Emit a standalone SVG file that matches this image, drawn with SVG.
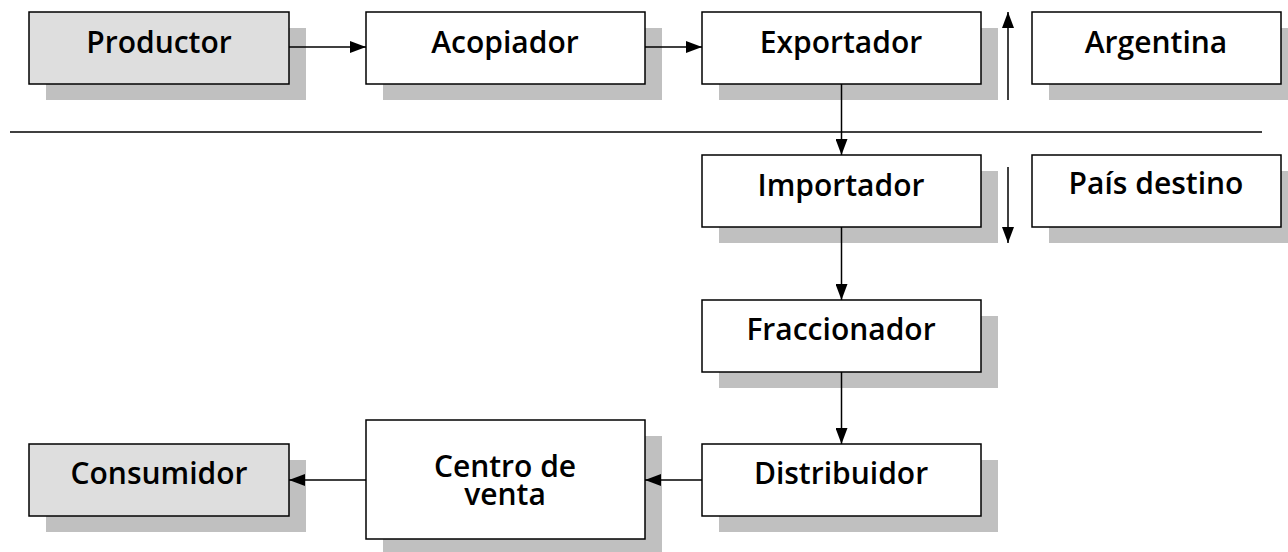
<svg xmlns="http://www.w3.org/2000/svg" width="1288" height="552" viewBox="0 0 1288 552">
<defs>
<marker id="ah" viewBox="0 0 16 12" refX="16" refY="6" markerWidth="16" markerHeight="12" markerUnits="userSpaceOnUse" orient="auto">
<path d="M0,0 L16,6 L0,12 Z" fill="#000"/>
</marker>
</defs>
<style>
.sh{fill:#c0c0c0}
.bx{fill:#fff;stroke:#000;stroke-width:1.5}
.gr{fill:#dedede}
.t{font-family:"Open Sans","DejaVu Sans",sans-serif;font-size:30px;font-weight:600;fill:#000;text-anchor:middle}
.ln{stroke:#000;stroke-width:1.5;fill:none}
.ar{stroke:#000;stroke-width:1.5;fill:none;marker-end:url(#ah)}
</style>
<rect width="1288" height="552" fill="#fff"/>
<g id="productor"><rect class="sh" x="46" y="28" width="260" height="72"/><rect class="bx gr" x="29" y="12" width="260" height="72"/><text class="t" x="159" y="53">Productor</text></g>
<g id="acopiador"><rect class="sh" x="383" y="28" width="279" height="72"/><rect class="bx" x="366" y="12" width="279" height="72"/><text class="t" x="505" y="53">Acopiador</text></g>
<g id="exportador"><rect class="sh" x="719" y="28" width="279" height="72"/><rect class="bx" x="702" y="12" width="279" height="72"/><text class="t" x="841" y="53">Exportador</text></g>
<g id="argentina"><rect class="sh" x="1049" y="28" width="250" height="72"/><rect class="bx" x="1032" y="12" width="249" height="72"/><text class="t" x="1156" y="53">Argentina</text></g>
<g id="importador"><rect class="sh" x="719" y="171" width="279" height="72"/><rect class="bx" x="702" y="155" width="279" height="72"/><text class="t" x="841" y="196">Importador</text></g>
<g id="pais"><rect class="sh" x="1049" y="171" width="250" height="72"/><rect class="bx" x="1032" y="155" width="249" height="72"/><text class="t" x="1156" y="194">País destino</text></g>
<g id="fraccionador"><rect class="sh" x="719" y="316" width="279" height="72"/><rect class="bx" x="702" y="300" width="279" height="72"/><text class="t" x="841" y="340">Fraccionador</text></g>
<g id="distribuidor"><rect class="sh" x="719" y="460" width="279" height="72"/><rect class="bx" x="702" y="444" width="279" height="72"/><text class="t" x="841" y="484">Distribuidor</text></g>
<g id="centro"><rect class="sh" x="383" y="436" width="279" height="116"/><rect class="bx" x="366" y="420" width="279" height="119"/><text class="t" x="505" y="477">Centro de</text><text class="t" x="505" y="505">venta</text></g>
<g id="consumidor"><rect class="sh" x="46" y="460" width="260" height="72"/><rect class="bx gr" x="29" y="444" width="260" height="72"/><text class="t" x="159" y="484">Consumidor</text></g>
<g id="connectors">
<line class="ln" x1="10" y1="132" x2="1262" y2="132"/>
<line class="ar" x1="289" y1="47" x2="366" y2="47"/>
<line class="ar" x1="645" y1="47" x2="702" y2="47"/>
<line class="ar" x1="1008" y1="100" x2="1008" y2="12"/>
<line class="ar" x1="1008" y1="167" x2="1008" y2="243"/>
<line class="ar" x1="841.5" y1="84" x2="841.5" y2="155"/>
<line class="ar" x1="841.5" y1="227" x2="841.5" y2="300"/>
<line class="ar" x1="841.5" y1="372" x2="841.5" y2="444"/>
<line class="ar" x1="702" y1="480" x2="645" y2="480"/>
<line class="ar" x1="366" y1="480" x2="289" y2="480"/>
</g>
</svg>
